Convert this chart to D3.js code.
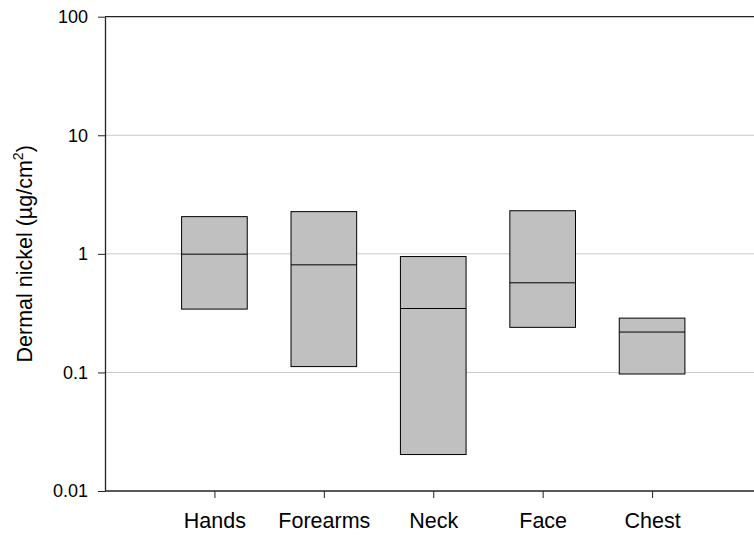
<!DOCTYPE html>
<html>
<head>
<meta charset="utf-8">
<script src="https://cdn.jsdelivr.net/npm/d3@7"></script>
<style>
  body { margin: 0; background: #fff; }
  svg { display: block; font-family: "Liberation Sans", Arial, sans-serif; }
</style>
</head>
<body>
<script>
// body sites and their box values (µg/cm²)
const sites = ["Hands", "Forearms", "Neck", "Face", "Chest"];
const lower = [0.342, 0.112, 0.0203, 0.240, 0.097];
const median = [0.994, 0.808, 0.346, 0.570, 0.219];
const upper = [2.06, 2.27, 0.949, 2.31, 0.287];
const yTicks = [0.01, 0.1, 1, 10, 100];

const data = sites.map((s, i) => ({
  site: s,
  pos: i + 1,
  lo: lower[i],
  med: median[i],
  hi: upper[i],
}));

const width = 754;
const height = 537;
const plotLeft = 105;
const plotTop = 16.7;
const plotBottom = 491;

const svg = d3
  .select("body")
  .append("svg")
  .attr("width", width)
  .attr("height", height);

//Scales (x runs past the right edge like the original export)
const xScale = d3.scaleLinear().domain([0, 6]).range([plotLeft, 761.5]);
const yScale = d3.scaleLog().domain([0.01, 100]).range([plotBottom, plotTop]);
const boxW = xScale(0.6) - xScale(0);

//Grid lines
svg
  .append("g")
  .selectAll("line")
  .data([0.1, 1, 10])
  .enter()
  .append("line")
  .attr("x1", plotLeft)
  .attr("x2", width)
  .attr("y1", (d) => yScale(d))
  .attr("y2", (d) => yScale(d))
  .attr("stroke", "#c8c8c8")
  .attr("stroke-width", 1);

//Top frame line
svg
  .append("line")
  .attr("x1", plotLeft)
  .attr("x2", width)
  .attr("y1", yScale(100))
  .attr("y2", yScale(100))
  .attr("stroke", "#222")
  .attr("stroke-width", 1.3);

//Boxes
const boxes = svg.append("g").selectAll("g").data(data).enter().append("g");

boxes
  .append("rect")
  .attr("x", (d) => xScale(d.pos) - boxW / 2)
  .attr("width", boxW)
  .attr("y", (d) => yScale(d.hi))
  .attr("height", (d) => yScale(d.lo) - yScale(d.hi))
  .attr("fill", "#c0c0c0")
  .attr("stroke", "#000")
  .attr("stroke-width", 1);

boxes
  .append("line")
  .attr("x1", (d) => xScale(d.pos) - boxW / 2)
  .attr("x2", (d) => xScale(d.pos) + boxW / 2)
  .attr("y1", (d) => yScale(d.med))
  .attr("y2", (d) => yScale(d.med))
  .attr("stroke", "#000")
  .attr("stroke-width", 1);

//Axes
const xAxis = d3
  .axisBottom(xScale)
  .tickValues(data.map((d) => d.pos))
  .tickFormat((d) => sites[d - 1])
  .tickSizeInner(7)
  .tickSizeOuter(0)
  .tickPadding(15);

const gx = svg
  .append("g")
  .attr("transform", "translate(0," + plotBottom + ")")
  .call(xAxis);
gx.select(".domain").attr("d", "M" + plotLeft + ",0H" + width).attr("stroke", "#222").attr("stroke-width", 1.3);
gx.selectAll("text").attr("font-size", 21.5).attr("fill", "#000");
gx.selectAll(".tick line").attr("stroke", "#222");

const yAxis = d3
  .axisLeft(yScale)
  .tickValues(yTicks)
  .tickFormat((d) => String(d))
  .tickSizeInner(7)
  .tickSizeOuter(0)
  .tickPadding(10);

const gy = svg
  .append("g")
  .attr("transform", "translate(" + plotLeft + ",0)")
  .call(yAxis);
gy.select(".domain").attr("stroke", "#222").attr("stroke-width", 1.3);
gy.selectAll("text").attr("font-size", 18).attr("fill", "#000");
gy.selectAll(".tick line").attr("stroke", "#222");

//Y title
const title = svg
  .append("text")
  .attr("transform", "translate(32," + (plotTop + plotBottom) / 2 + ") rotate(-90)")
  .attr("text-anchor", "middle")
  .attr("font-size", 21.5)
  .attr("fill", "#000");
title.append("tspan").text("Dermal nickel (\u00b5g/cm");
title.append("tspan").attr("font-size", 14).attr("dy", -9).text("2");
title.append("tspan").attr("dy", 9).text(")");
</script>
</body>
</html>
